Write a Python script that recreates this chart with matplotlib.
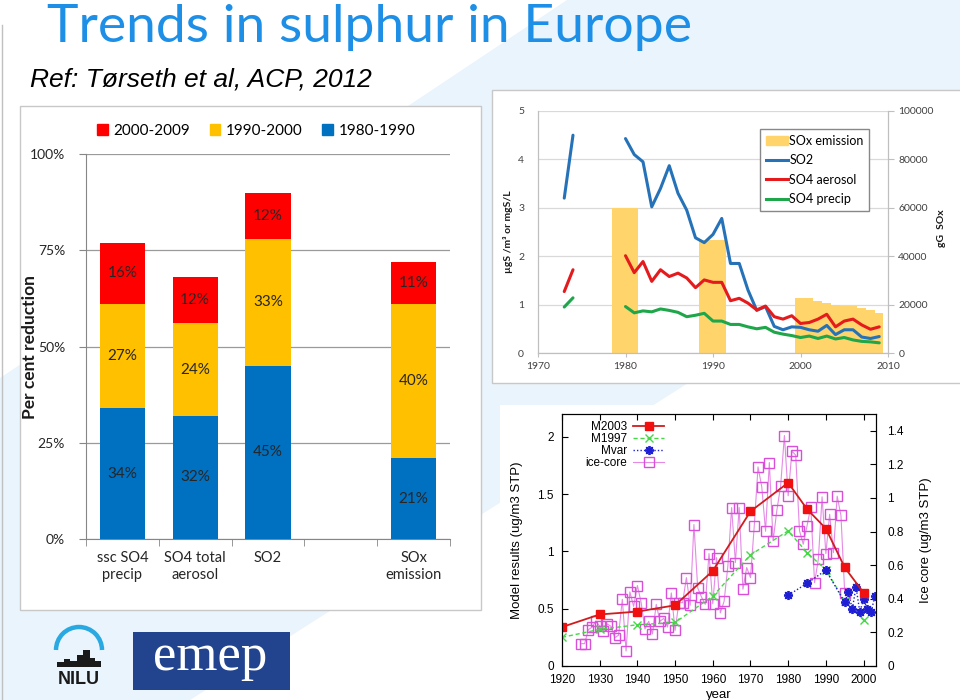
import numpy as np
import matplotlib.pyplot as plt
from matplotlib.patches import Rectangle, Polygon, Arc, Patch
from matplotlib.lines import Line2D

plt.rcParams['font.family'] = ['Lato', 'DejaVu Sans']

W, H = 960, 700
nan = np.nan

# per cent reduction (left panel)
cats = ['ssc SO4\nprecip', 'SO4 total\naerosol', 'SO2', '', 'SOx\nemission']
red_00 = [16, 12, 12, nan, 11]
yel_90 = [27, 24, 33, nan, 40]
blu_80 = [34, 32, 45, nan, 21]
periods = ['2000-2009', '1990-2000', '1980-1990']

# EMEP trends (top right)
yrs = list(range(1973, 2010))
so2 = [3.2, 4.5, nan, nan, nan, nan, nan,
       4.43, 4.1, 3.95, 3.02, 3.4, 3.87, 3.3, 2.95, 2.38, 2.28,
       2.45, 2.78, 1.85, 1.85, 1.3, 0.88, 0.96, 0.55, 0.48, 0.54,
       0.53, 0.48, 0.45, 0.57, 0.38, 0.48, 0.48, 0.33, 0.3, 0.34]
so4_aer = [1.27, 1.72, nan, nan, nan, nan, nan,
           2.01, 1.66, 1.89, 1.48, 1.72, 1.58, 1.65, 1.55, 1.35, 1.51,
           1.46, 1.46, 1.08, 1.13, 1.03, 0.89, 0.97, 0.75, 0.70, 0.77,
           0.61, 0.63, 0.70, 0.80, 0.54, 0.66, 0.70, 0.58, 0.49, 0.54]
so4_prc = [0.95, 1.14, nan, nan, nan, nan, nan,
           0.96, 0.83, 0.87, 0.85, 0.91, 0.88, 0.84, 0.75, 0.78, 0.82,
           0.66, 0.66, 0.59, 0.59, 0.54, 0.50, 0.53, 0.43, 0.39, 0.36,
           0.32, 0.35, 0.30, 0.35, 0.29, 0.32, 0.27, 0.24, 0.23, 0.21]
em_yrs = [1979, 1980, 1981, 1989, 1990, 1991,
          2000, 2001, 2002, 2003, 2004, 2005, 2006, 2007, 2008, 2009]
sox_em = [60000, 60000, 60000, 46800, 46800, 46800,
          22800, 22800, 21600, 20600, 19800, 19400, 19400, 18800, 17800, 16600]

# model vs ice core (bottom right)
m_yrs = [1920, 1930, 1940, 1950, 1960, 1970, 1980, 1985, 1990, 1995, 2000]
m2003 = [0.34, 0.45, 0.475, 0.53, 0.83, 1.35, 1.60, 1.37, 1.20, 0.86, 0.64]
m1997 = [0.25, 0.32, 0.36, 0.38, 0.61, 0.97, 1.18, 0.99, 0.84, 0.565, 0.40]
mvar_yrs = [1980, 1985, 1990, 1995, 1996, 1997, 1998, 1999, 2000, 2001, 2002, 2003]
mvar = [0.617, 0.722, 0.836, 0.556, 0.644, 0.495, 0.69, 0.472, 0.583, 0.495, 0.472, 0.609]
ice_yrs = list(range(1925, 1996))
ice = [0.133, 0.133, 0.216, 0.232, 0.268, 0.236, 0.207, 0.25, 0.236, 0.169,
       0.183, 0.397, 0.089, 0.441, 0.355, 0.479, 0.377, 0.22, 0.266, 0.191,
       0.367, 0.266, 0.284, 0.232, 0.435, 0.212, 0.377, 0.377, 0.526, 0.361,
       0.842, 0.465, 0.411, 0.367, 0.669, 0.371, 0.645, 0.316, 0.385, 0.594,
       0.943, 0.616, 0.943, 0.457, 0.586, 0.526, 0.832, 1.185, 1.066, 0.802,
       1.211, 0.745, 0.927, 1.072, 1.372, 1.013, 1.279, 1.255, 0.806, 0.725,
       0.834, 0.947, 0.496, 0.635, 1.007, 0.669, 0.903, 0.675, 1.011, 0.896,
       0.437]


def px(x0, y0, x1, y1):
    return [x0 / W, 1 - y1 / H, (x1 - x0) / W, (y1 - y0) / H]


fig = plt.figure(figsize=(9.6, 7), dpi=100)

# slide background / decoration, in pixel coords
deco = fig.add_axes([0, 0, 1, 1], zorder=-5)
deco.set_xlim(0, W)
deco.set_ylim(H, 0)
deco.axis('off')
deco.add_patch(Polygon([(567, 0), (960, 0), (960, 210), (190, 700), (0, 700), (0, 378)],
                       fc='#EAF4FC', ec='none'))
deco.plot([2, 2], [25, 700], color='#C0C0C0', lw=1)
deco.add_patch(Rectangle((20, 106), 461, 504, fc='white', ec='#C8C8C8', lw=1))
deco.add_patch(Rectangle((492, 90), 470, 293, fc='white', ec='#C8C8C8', lw=1))
deco.add_patch(Rectangle((500, 405), 460, 295, fc='white', ec='none'))
deco.text(47, 42, 'Trends in sulphur in Europe', color='#1D8FE6', fontsize=38.5,
          va='baseline', ha='left')
deco.text(30, 80, 'Ref: Tørseth et al, ACP, 2012', fontsize=19, style='italic',
          family='Liberation Sans', va='center', ha='left')
# NILU logo
deco.add_patch(Arc((79, 650), 46, 46, theta1=180, theta2=360, color='#29A9E1', lw=3.2))
for x, w, h in [(57, 8, 5), (64, 6, 8), (70, 7, 6), (77, 6, 12), (83, 7, 17), (90, 5, 9), (95, 6, 6)]:
    deco.add_patch(Rectangle((x, 667 - h), w, h, fc='#1a1a1a', ec='none'))
deco.text(79, 680, 'NILU', fontsize=13, weight='bold', family='Liberation Sans',
          ha='center', va='center', color='#1a1a1a')
# emep logo
deco.add_patch(Rectangle((133, 632), 157, 58, fc='#22448F', ec='none'))
deco.text(210, 657, 'emep', fontsize=38, family='Liberation Serif', color='white',
          ha='center', va='center')

# ---------------- left: stacked bars
ax1 = fig.add_axes(px(86, 154, 450, 539))
x = np.arange(len(cats))
bw = 0.62
c_red, c_yel, c_blu = '#FF0000', '#FFC000', '#0070C0'
ax1.bar(x, blu_80, bw, color=c_blu, zorder=3)
ax1.bar(x, yel_90, bw, bottom=blu_80, color=c_yel, zorder=3)
ax1.bar(x, red_00, bw, bottom=np.add(blu_80, yel_90), color=c_red, zorder=3)
for i in range(len(cats)):
    if np.isnan(blu_80[i]):
        continue
    base = 0
    for v in (blu_80[i], yel_90[i], red_00[i]):
        ax1.text(i, base + v / 2, f'{v:.0f}%', ha='center', va='center',
                 fontsize=11, color='#262626', zorder=4)
        base += v
ax1.set_xlim(-0.5, len(cats) - 0.5)
ax1.set_ylim(0, 100)
ax1.set_yticks([0, 25, 50, 75, 100])
ax1.set_yticklabels([f'{t}%' for t in [0, 25, 50, 75, 100]])
ax1.set_xticks(x)
ax1.set_xticklabels(cats, fontsize=10.5, color='#262626')
ax1.set_xticks(np.arange(-0.5, len(cats)), minor=True)
ax1.tick_params(axis='x', which='major', length=0, pad=9)
ax1.tick_params(axis='x', which='minor', length=5, color='#868686')
ax1.tick_params(axis='y', length=5, color='#868686', labelsize=10,
                labelcolor='#262626', pad=10)
ax1.grid(axis='y', color='#9A9A9A', lw=0.9, zorder=0)
for s in ['top', 'right']:
    ax1.spines[s].set_visible(False)
for s in ['left', 'bottom']:
    ax1.spines[s].set_color('#868686')
leg_h = [Patch(color=c) for c in (c_red, c_yel, c_blu)]
fig.legend(leg_h, periods, loc='center', bbox_to_anchor=(256 / W, 1 - 131 / H),
           ncol=3, frameon=False, fontsize=11, handlelength=0.7, handleheight=0.7,
           handletextpad=0.35, columnspacing=1.3)
fig.text(30 / W, 1 - 347 / H, 'Per cent reduction', rotation=90, fontsize=12.5,
         weight='bold', ha='center', va='center', color='#1a1a1a')

# ---------------- top right: EMEP time series
ax2 = fig.add_axes(px(538, 111, 888, 353))
ax2r = ax2.twinx()
c_em = '#FFD56B'
ax2r.bar([y - 0.6 for y in em_yrs], sox_em, width=1.08, align='edge', color=c_em,
         lw=0, zorder=2)
ax2r.set_ylim(0, 100000)
ax2r.set_yticks(range(0, 100001, 20000))
ax2r.grid(axis='y', color='#D9D9D9', lw=0.9)
ax2r.set_axisbelow(True)
ax2.set_zorder(ax2r.get_zorder() + 1)
ax2.patch.set_visible(False)
c_so2, c_aer, c_prc = '#2672B8', '#E41A1C', '#1FA64A'
lw2 = 2.2
ax2.plot(yrs, so2, color=c_so2, lw=lw2, solid_capstyle='round', solid_joinstyle='round')
ax2.plot(yrs, so4_aer, color=c_aer, lw=lw2, solid_capstyle='round', solid_joinstyle='round')
ax2.plot(yrs, so4_prc, color=c_prc, lw=lw2, solid_capstyle='round', solid_joinstyle='round')
ax2.set_xlim(1970, 2010)
ax2.set_ylim(0, 5)
ax2.set_xticks(range(1970, 2011, 10))
ax2.set_yticks(range(0, 6))
ax2.tick_params(axis='x', length=3, color='#BFBFBF', labelsize=7.5, labelcolor='#404040')
ax2.tick_params(axis='y', length=0, labelsize=7.5, labelcolor='#404040', pad=10)
ax2r.tick_params(axis='y', length=4, color='#BFBFBF', labelsize=7.5, labelcolor='#404040')
for a in (ax2, ax2r):
    a.spines['top'].set_visible(False)
    for s in ['left', 'right', 'bottom']:
        a.spines[s].set_color('#BFBFBF')
ax2.legend([Patch(color=c_em), Line2D([], [], color=c_so2, lw=lw2),
            Line2D([], [], color=c_aer, lw=lw2), Line2D([], [], color=c_prc, lw=lw2)],
           ['SOx emission', 'SO2', 'SO4 aerosol', 'SO4 precip'],
           loc='upper left', bbox_to_anchor=((760 - 538) / 350, (353 - 129) / 242),
           fontsize=9, handlelength=1.8, handletextpad=0.1, fancybox=False,
           edgecolor='#888888', framealpha=1, borderpad=0.45, labelspacing=0.6,
           borderaxespad=0)
fig.text(508 / W, 1 - 232 / H, 'µgS /m³ or mgS/L', rotation=90, fontsize=7.5,
         weight='bold', ha='center', va='center', color='#1a1a1a')
fig.text(942 / W, 1 - 228 / H, 'gG  SOx', rotation=90, fontsize=7.5,
         weight='bold', ha='center', va='center', color='#1a1a1a')

# ---------------- bottom right: model results vs ice core
gfont = 'Liberation Sans'
ax3 = fig.add_axes(px(562, 414, 876, 666))
ax3r = ax3.twinx()
ax3.set_zorder(ax3r.get_zorder() + 1)
ax3.patch.set_visible(False)
h_ice, = ax3r.plot(ice_yrs, ice, color='#E58BE5', lw=0.8, marker='s', ms=6.5,
                   mfc='none', mec='#D94FD9', mew=1)
h_m97, = ax3.plot(m_yrs, m1997, color='#44D944', lw=1, ls=(0, (3, 2)), marker='x',
                  ms=5.5, mew=1)
h_mv, = ax3.plot(mvar_yrs, mvar, color='#1E1ED2', lw=1, ls=(0, (1, 1.5)),
                 marker=(8, 2, 0), ms=6.5, mew=1.3)
h_m03, = ax3.plot(m_yrs, m2003, color='#D01C1C', lw=1.3, marker='s', ms=5.5,
                  mfc='#F01010', mec='#F01010')
ax3.set_xlim(1920, 2003.3)
ax3.set_ylim(0, 2.2)
ax3r.set_ylim(0, 1.5)
ax3.set_xticks(range(1920, 2001, 10))
ax3.set_yticks([0, 0.5, 1, 1.5, 2])
ax3.set_yticklabels(['0', '0.5', '1', '1.5', '2'])
ax3r.set_yticks([0, 0.2, 0.4, 0.6, 0.8, 1.0, 1.2, 1.4])
ax3r.set_yticklabels(['0', '0.2', '0.4', '0.6', '0.8', '1', '1.2', '1.4'])
ax3.tick_params(direction='in', length=4, top=True, labelsize=8.5, pad=6)
ax3r.tick_params(direction='in', length=4, labelsize=8.5, pad=8)
for a in (ax3, ax3r):
    for lab in a.get_xticklabels() + a.get_yticklabels():
        lab.set_family(gfont)
ax3.set_xlabel('year', fontsize=9.5, family=gfont, labelpad=2)
ax3.set_ylabel('Model results (ug/m3 STP)', fontsize=9.5, family=gfont, labelpad=10)
ax3r.set_ylabel('Ice core (ug/m3 STP)', fontsize=9.5, family=gfont, labelpad=12)
ax3.legend([h_m03, h_m97, h_mv, h_ice], ['M2003', 'M1997', 'Mvar', 'ice-core'],
           loc='upper left', bbox_to_anchor=(0.06, 0.99), markerfirst=False,
           frameon=False, prop={'family': gfont, 'size': 8.5}, handlelength=2.6,
           labelspacing=0.0, handletextpad=0.5, borderaxespad=0)

fig.savefig('out.png', dpi=100)
